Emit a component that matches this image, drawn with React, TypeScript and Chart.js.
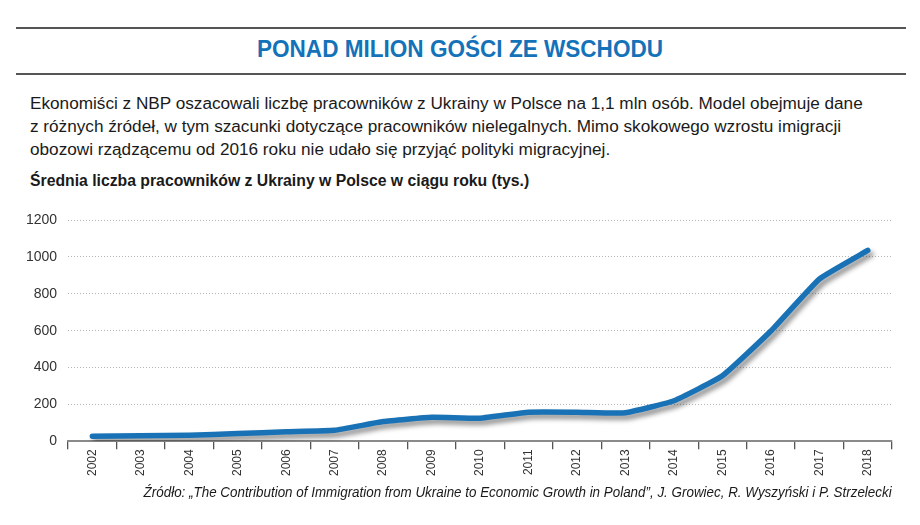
import React, { useEffect, useRef } from "react";
import { Chart, registerables } from "chart.js";

Chart.register(...registerables);

const years: string[] = ["2002","2003","2004","2005","2006","2007","2008","2009","2010","2011","2012","2013","2014","2015","2016","2017","2018"];
const workers: number[] = [27, 30, 33, 42, 52, 60, 107, 130, 125, 158, 158, 155, 220, 355, 598, 880, 1035];
const yTicks: number[] = [0, 200, 400, 600, 800, 1000, 1200];

const titleText = "PONAD MILION GOŚCI ZE WSCHODU";
const bodyLines: string[] = [
  "Ekonomiści z NBP oszacowali liczbę pracowników z Ukrainy w Polsce na 1,1 mln osób. Model obejmuje dane",
  "z różnych źródeł, w tym szacunki dotyczące pracowników nielegalnych. Mimo skokowego wzrostu imigracji",
  "obozowi rządzącemu od 2016 roku nie udało się przyjąć polityki migracyjnej.",
];
const subtitleText = "Średnia liczba pracowników z Ukrainy w Polsce w ciągu roku (tys.)";
const sourceText = "Źródło: „The Contribution of Immigration from Ukraine to Economic Growth in Poland”, J. Growiec, R. Wyszyński i P. Strzelecki";

const SANS = "'Liberation Sans', Arial, Helvetica, sans-serif";

const shadowPlugin = {
  id: "lineShadow",
  beforeDatasetDraw(chart: any) {
    const ctx = chart.ctx;
    ctx.save();
    ctx.shadowColor = "rgba(0,0,0,0.45)";
    ctx.shadowBlur = 5;
    ctx.shadowOffsetX = 3;
    ctx.shadowOffsetY = 4;
  },
  afterDatasetDraw(chart: any) {
    chart.ctx.restore();
  },
};

function Text(props: {
  text: string;
  left: number;
  baseline: number;
  size: number;
  family: string;
  weight?: string;
  italic?: boolean;
  color?: string;
  scaleX?: number;
  origin?: string;
  center?: boolean;
  right?: number;
}) {
  const top = props.baseline - 0.8465 * props.size;
  const style: React.CSSProperties = {
    position: "absolute",
    top,
    fontSize: props.size,
    lineHeight: `${props.size}px`,
    fontFamily: props.family,
    fontWeight: (props.weight as any) || "normal",
    fontStyle: props.italic ? "italic" : "normal",
    color: props.color || "#1a1a1a",
    whiteSpace: "nowrap",
    transform: `scaleX(${props.scaleX ?? 1})`,
    transformOrigin: props.origin || "left",
  };
  if (props.center) {
    style.left = 0;
    style.width = 920;
    style.textAlign = "center";
  } else if (props.right !== undefined) {
    style.right = props.right;
  } else {
    style.left = props.left;
  }
  return <div style={style}>{props.text}</div>;
}

export default function App() {
  const canvasRef = useRef<HTMLCanvasElement | null>(null);

  useEffect(() => {
    document.body.style.margin = "0";
    const canvas = canvasRef.current;
    if (!canvas) return;
    const chart = new Chart(canvas, {
      type: "line",
      data: {
        labels: years,
        datasets: [
          {
            data: workers,
            borderColor: "#1a72b6",
            borderWidth: 5.5,
            pointRadius: 0,
            tension: 0.12,
            borderCapStyle: "round",
            borderJoinStyle: "round",
            fill: false,
          },
        ],
      },
      options: {
        animation: false,
        responsive: false,
        maintainAspectRatio: false,
        events: [],
        layout: { padding: { top: 20, left: 15, right: 28, bottom: 24 } },
        plugins: { legend: { display: false }, tooltip: { enabled: false } },
        scales: {
          x: {
            type: "category",
            offset: true,
            grid: {
              display: true,
              drawOnChartArea: false,
              drawTicks: true,
              tickLength: 8,
              offset: true,
              color: "#555",
              lineWidth: 1.3,
            },
            border: { display: true, color: "#8a8a8a", width: 2 },
            ticks: {
              autoSkip: false,
              maxRotation: 90,
              minRotation: 90,
              padding: 0,
              color: "#333",
              font: { family: SANS, size: 12 },
            },
          },
          y: {
            min: 0,
            max: 1200,
            afterBuildTicks: (axis: any) => {
              axis.ticks = yTicks.map((v) => ({ value: v }));
            },
            grid: {
              drawTicks: false,
              color: "#b5b5b5",
              lineWidth: 1,
            },
            border: { display: false, dash: [1, 2] },
            ticks: {
              padding: 11,
              color: "#333",
              font: { family: SANS, size: 14 },
              callback: (v: any) => String(v),
            },
          },
        },
      },
      plugins: [shadowPlugin],
    });
    return () => chart.destroy();
  }, []);

  return (
    <div style={{ position: "absolute", left: 0, top: 0, width: 920, height: 525, background: "#fff", overflow: "hidden" }}>
      <div style={{ position: "absolute", left: 16, top: 27, width: 890, height: 2, background: "#555" }} />
      <div style={{ position: "absolute", left: 16, top: 73, width: 890, height: 2, background: "#555" }} />
      <Text text={titleText} left={0} baseline={58} size={23.5} family={SANS} weight="bold" color="#1472b8" center scaleX={0.96} origin="center" />
      {bodyLines.map((line, i) => (
        <Text key={i} text={line} left={30} baseline={109.5 + i * 23} size={16} family={SANS} scaleX={1.073} />
      ))}
      <Text text={subtitleText} left={30} baseline={187} size={16} family={SANS} weight="bold" scaleX={0.985} />
      <div style={{ position: "absolute", left: 0, top: 200, width: 920, height: 300 }}>
        <canvas ref={canvasRef} width={920} height={300} style={{ width: 920, height: 300, display: "block" }} />
      </div>
      <Text text={sourceText} left={0} baseline={497} size={14} family={SANS} italic right={28} scaleX={0.957} origin="right" />
    </div>
  );
}
